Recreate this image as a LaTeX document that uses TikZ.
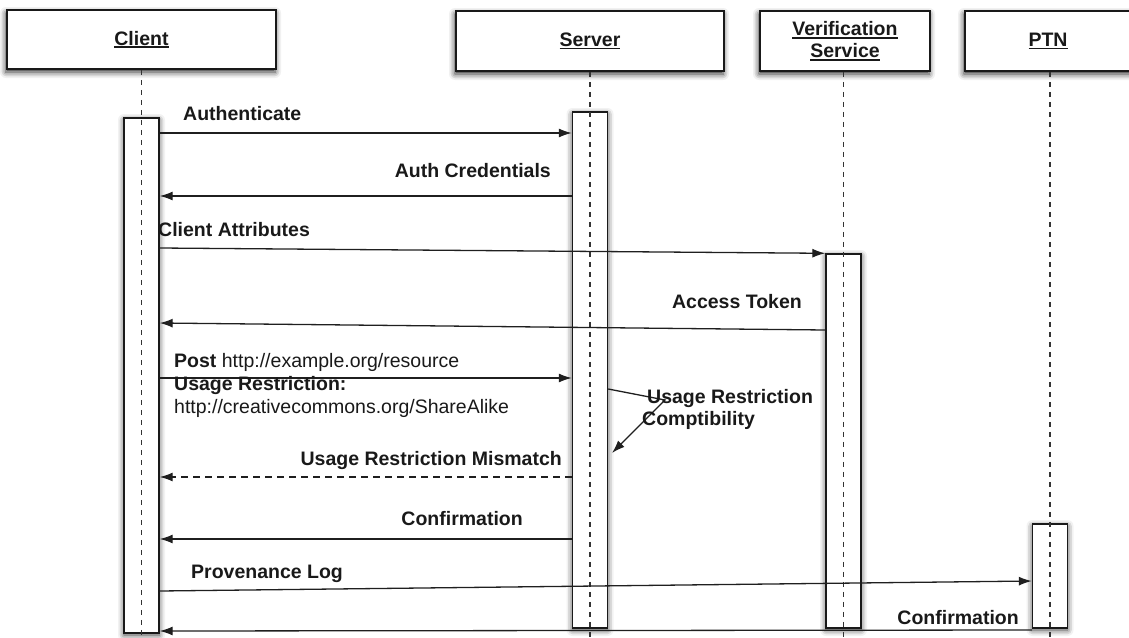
\documentclass[tikz,border=0pt]{standalone}
\usepackage{fontspec}
\setmainfont{Liberation Sans}
\usetikzlibrary{arrows.meta,shadows.blur}
\newcommand\myul[1]{\setbox0\hbox{#1}\rlap{\rule[-3pt]{\wd0}{1.6pt}}\box0}
\begin{document}
\begin{tikzpicture}[x=1pt,y=-1pt,
  txt/.style={font=\fontsize{19.5}{23}\selectfont\bfseries, text=black!90, inner sep=0pt},
  plain/.style={font=\fontsize{19.5}{23}\selectfont, text=black!90, inner sep=0pt},
  hdr/.style={draw=black!90, line width=1.5pt, fill=white, align=center,
    font=\fontsize{19.5}{23}\selectfont\bfseries, text=black!90,
    blur shadow={shadow xshift=-1pt, shadow yshift=-3pt, shadow blur radius=6pt, shadow opacity=85}},
  actbar/.style={draw=black!90, line width=1.4pt, fill=white, minimum width=35pt, inner sep=0pt,
    blur shadow={shadow xshift=0pt, shadow yshift=-2pt, shadow blur radius=6pt, shadow opacity=80}},
  life/.style={draw=black!80, line width=1.4pt, dash pattern=on 5pt off 5pt},
  msg/.style={draw=black!88, line width=1.3pt, -{Latex[length=13pt,width=9pt]}},
  ret/.style={msg, dash pattern=on 7pt off 5pt}
]
\useasboundingbox (0,0) rectangle (1129,637);
% header boxes
\node[hdr, minimum width=269pt, minimum height=59pt] (client) at (141.5,39.5) {\myul{Client}};
\node[hdr, minimum width=268pt, minimum height=60pt] (server) at (590,41) {\myul{Server}};
\node[hdr, minimum width=170pt, minimum height=60pt] (verif) at (845,41) {\myul{Verification}\\[-1pt]\myul{Service}};
\node[hdr, minimum width=166pt, minimum height=60pt] (ptn) at (1048,41) {\myul{PTN}};
% activation bars
\node[actbar, minimum height=515pt] (cbar) at (141.5,375.5) {};
\node[actbar, minimum height=516pt] (sbar) at (590,370) {};
\node[actbar, minimum height=374pt] (vbar) at (843.5,441) {};
\node[actbar, minimum height=104pt] (pbar) at (1050,576) {};
% lifelines
\coordinate (bot) at (0,637);
\draw[life] (client.south) -- (client.south |- bot);
\draw[life] (server.south) -- (server.south |- bot);
\draw[life] (verif.south -| vbar.center) -- (vbar.center |- bot);
\draw[life] (ptn.south -| pbar.center) -- (pbar.center |- bot);
% messages
\draw[msg] (cbar.east |- 0,133) -- (sbar.west |- 0,133);
\node[txt, anchor=base west] (l1) at (183,120) {Authenticate};

\draw[msg] (sbar.west |- 0,196) -- (cbar.east |- 0,196);
\node[txt, anchor=base east] (l2) at (551,177) {Auth Credentials};

\draw[msg] (cbar.east |- 0,248) -- (vbar.north west);
\node[txt, anchor=base west] (l3) at (158,236) {Client Attributes};

\draw[msg] (vbar.west |- 0,330) -- (cbar.east |- 0,323);
\node[txt, anchor=base east] (l4) at (802,308) {Access Token};

\draw[msg] (cbar.east |- 0,378) -- (sbar.west |- 0,378);
\node[plain, anchor=base west] (l5a) at (174,367) {\textbf{Post} http://example.org/resource};
\node[txt, anchor=base west] (l5b) at (174,390) {Usage Restriction:};
\node[plain, anchor=base west] (l5c) at (174,413) {http://creativecommons.org/ShareAlike};

\coordinate (sm1) at (665,400);
\coordinate (sm2) at (612,453);
\draw[msg] (sbar.east |- 0,389) -- (sm1) -- (sm2);
\node[txt, anchor=base west] (l6a) at (647,403) {Usage Restriction};
\node[txt, anchor=base west] (l6b) at (642,425) {Comptibility};

\draw[ret] (sbar.west |- 0,477) -- (cbar.east |- 0,477);
\node[txt, anchor=base east] (l7) at (562,465) {Usage Restriction Mismatch};

\draw[msg] (sbar.west |- 0,539) -- (cbar.east |- 0,539);
\node[txt, anchor=base east] (l8) at (523,525) {Confirmation};

\draw[msg] (cbar.east |- 0,591) -- (pbar.west |- 0,581);
\node[txt, anchor=base west] (l9) at (191,578) {Provenance Log};

\draw[msg] (pbar.west |- 0,630) -- (cbar.east |- 0,631);
\node[txt, anchor=base east] (l10) at (1019,624) {Confirmation};
\end{tikzpicture}
\end{document}
